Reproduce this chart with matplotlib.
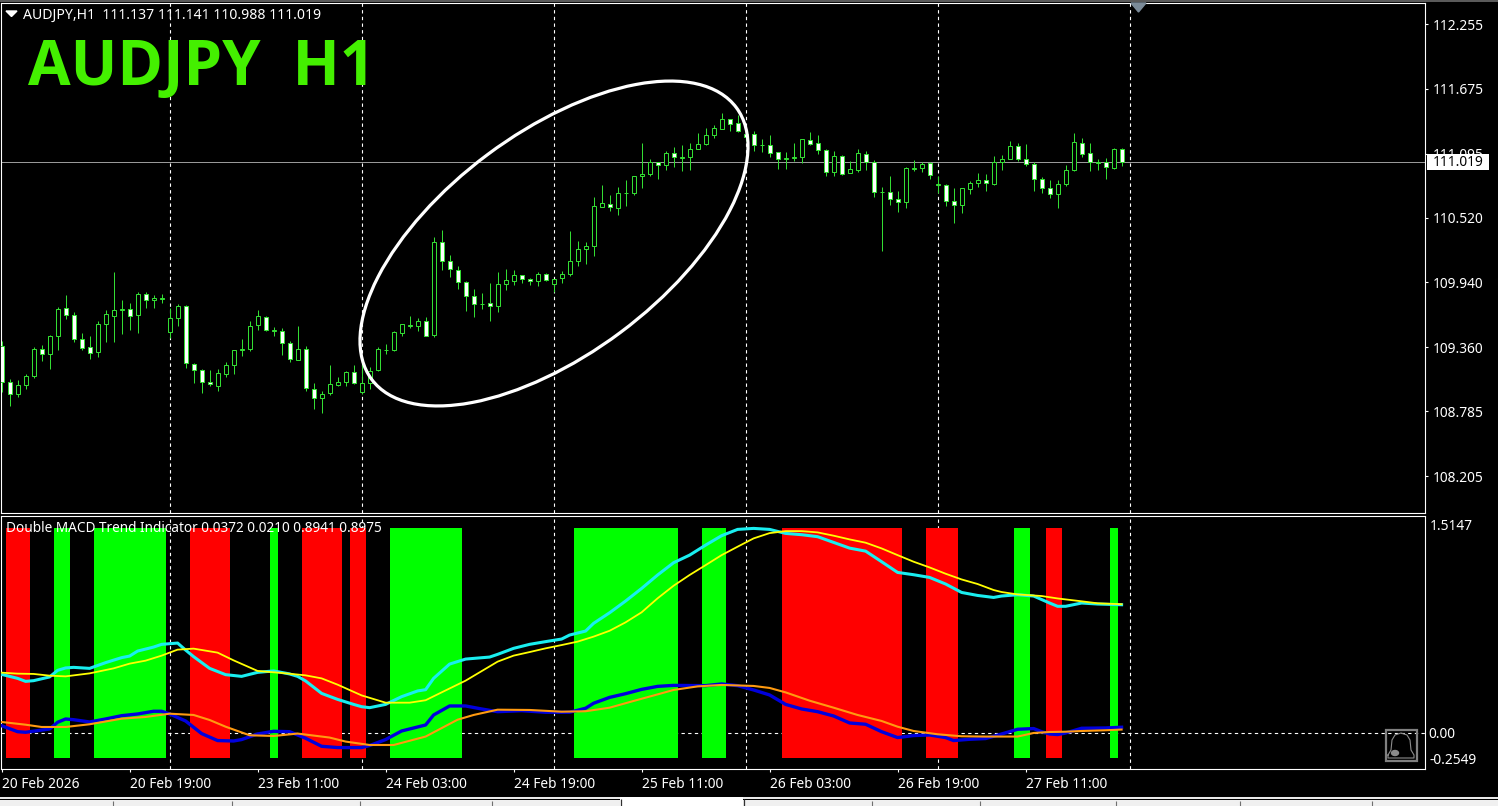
import matplotlib
matplotlib.use('Agg')
import matplotlib.pyplot as plt
from matplotlib.patches import Ellipse, Rectangle, Polygon

# figure parameters
WIDTH, HEIGHT = 1498, 806
PRICE_BOX = (1, 3, 1425, 513)
MACD_BOX = (1, 516, 1425, 769)
BAR_PX = 8.0
FIRST_BAR_PX = 1.6
FONT = 'Noto Sans'
LABEL_SIZE = 9.9

candle_open = [
    109.371, 109.048, 108.937, 109.018, 109.099, 109.344, 109.296, 109.457, 109.712, 109.649,
    109.434, 109.362, 109.314, 109.568, 109.637, 109.694, 109.703, 109.646, 109.837, 109.780,
    109.789, 109.493, 109.619, 109.730, 109.206, 109.155, 109.048, 109.015, 109.117, 109.197,
    109.335, 109.341, 109.556, 109.631, 109.505, 109.505, 109.398, 109.248, 109.344, 108.985,
    108.901, 108.946, 109.024, 109.045, 109.138, 108.955, 109.039, 109.152, 109.333, 109.339,
    109.489, 109.554, 109.554, 109.593, 109.465, 110.302, 110.132, 110.051, 109.943, 109.818,
    109.743, 109.752, 109.725, 109.922, 109.955, 110.003, 109.967, 109.949, 110.015, 109.922,
    109.979, 110.012, 110.129, 110.236, 110.263, 110.613, 110.643, 110.607, 110.738, 110.738,
    110.894, 110.909, 111.017, 110.993, 111.097, 111.052, 111.061, 111.133, 111.184, 111.265,
    111.313, 111.402, 111.369, 111.271, 111.271, 111.170, 111.173, 111.110, 111.047, 111.053,
    111.062, 111.218, 111.191, 111.128, 110.934, 111.074, 110.919, 110.951, 111.092, 111.020,
    110.748, 110.751, 110.688, 110.658, 110.960, 110.963, 111.011, 110.814, 110.814, 110.670,
    110.632, 110.781, 110.829, 110.859, 110.826, 111.017, 111.044, 111.164, 111.047, 111.005,
    110.868, 110.784, 110.730, 110.820, 110.945, 111.188, 111.101, 111.011, 111.020, 110.969,
    111.137,
]
candle_high = [
    109.419, 109.075, 109.066, 109.120, 109.365, 109.383, 109.469, 109.724, 109.831, 109.679,
    109.490, 109.460, 109.598, 109.697, 110.038, 109.786, 109.759, 109.852, 109.858, 109.831,
    109.837, 109.715, 109.748, 109.739, 109.218, 109.164, 109.158, 109.164, 109.230, 109.338,
    109.437, 109.598, 109.697, 109.640, 109.541, 109.532, 109.416, 109.550, 109.371, 109.039,
    108.970, 109.200, 109.096, 109.147, 109.203, 109.209, 109.185, 109.359, 109.387, 109.507,
    109.572, 109.641, 109.626, 109.632, 110.350, 110.410, 110.185, 110.087, 109.949, 109.883,
    109.847, 109.934, 110.033, 110.063, 110.054, 110.009, 109.979, 110.036, 110.024, 109.973,
    110.045, 110.401, 110.311, 110.305, 110.706, 110.816, 110.727, 110.795, 110.858, 110.897,
    111.190, 111.049, 111.023, 111.118, 111.154, 111.175, 111.190, 111.280, 111.325, 111.351,
    111.459, 111.405, 111.441, 111.301, 111.301, 111.230, 111.265, 111.113, 111.110, 111.191,
    111.227, 111.292, 111.265, 111.137, 111.122, 111.080, 111.032, 111.140, 111.122, 111.038,
    110.799, 110.898, 110.763, 110.978, 111.041, 111.017, 111.020, 110.898, 110.823, 110.787,
    110.787, 110.853, 110.925, 110.916, 111.074, 111.086, 111.212, 111.194, 111.185, 111.020,
    110.889, 110.859, 110.859, 110.996, 111.280, 111.236, 111.194, 111.050, 111.059, 111.143,
    111.141,
]
candle_low = [
    108.955, 108.836, 108.910, 108.982, 109.081, 109.239, 109.161, 109.338, 109.610, 109.404,
    109.338, 109.251, 109.275, 109.404, 109.404, 109.475, 109.517, 109.484, 109.709, 109.715,
    109.753, 109.443, 109.553, 109.170, 109.042, 108.946, 109.015, 108.970, 109.096, 109.123,
    109.284, 109.329, 109.517, 109.502, 109.463, 109.293, 109.224, 109.248, 108.964, 108.809,
    108.767, 108.934, 109.015, 109.015, 109.030, 108.940, 108.982, 109.143, 109.297, 109.327,
    109.462, 109.528, 109.507, 109.456, 109.447, 110.054, 109.991, 109.886, 109.686, 109.635,
    109.704, 109.596, 109.677, 109.874, 109.919, 109.931, 109.919, 109.910, 109.955, 109.859,
    109.931, 109.994, 110.090, 110.102, 110.179, 110.613, 110.583, 110.547, 110.628, 110.727,
    110.789, 110.891, 110.870, 110.951, 110.978, 110.942, 110.951, 111.133, 111.175, 111.232,
    111.313, 111.301, 111.289, 111.212, 111.122, 111.113, 111.068, 110.960, 110.960, 111.032,
    111.011, 111.176, 111.095, 110.892, 110.898, 110.907, 110.919, 110.934, 110.951, 110.709,
    110.225, 110.638, 110.575, 110.611, 110.942, 110.928, 110.871, 110.745, 110.629, 110.476,
    110.560, 110.736, 110.799, 110.763, 110.817, 110.951, 111.044, 111.026, 110.987, 110.763,
    110.745, 110.700, 110.611, 110.808, 110.936, 111.062, 110.942, 110.951, 110.871, 110.960,
    110.988,
]
candle_close = [
    109.048, 108.940, 109.021, 109.102, 109.344, 109.299, 109.460, 109.703, 109.646, 109.431,
    109.350, 109.305, 109.568, 109.658, 109.694, 109.700, 109.637, 109.837, 109.783, 109.801,
    109.801, 109.622, 109.730, 109.215, 109.152, 109.045, 109.027, 109.129, 109.200, 109.335,
    109.344, 109.550, 109.640, 109.511, 109.514, 109.395, 109.251, 109.344, 108.994, 108.901,
    108.940, 109.030, 109.045, 109.138, 109.036, 109.039, 109.144, 109.344, 109.339, 109.498,
    109.566, 109.563, 109.593, 109.456, 110.302, 110.132, 110.057, 109.940, 109.815, 109.743,
    109.749, 109.728, 109.925, 109.961, 110.006, 109.970, 109.949, 110.015, 109.961, 109.970,
    110.015, 110.132, 110.239, 110.266, 110.625, 110.652, 110.613, 110.741, 110.744, 110.894,
    110.912, 111.020, 110.993, 111.100, 111.064, 111.064, 111.136, 111.181, 111.262, 111.325,
    111.405, 111.357, 111.295, 111.241, 111.170, 111.176, 111.098, 111.044, 111.056, 111.065,
    111.224, 111.179, 111.125, 110.928, 111.074, 110.916, 110.957, 111.101, 111.017, 110.748,
    110.754, 110.685, 110.658, 110.966, 110.966, 111.005, 110.901, 110.823, 110.667, 110.632,
    110.787, 110.832, 110.859, 110.829, 111.017, 111.047, 111.164, 111.044, 110.999, 110.865,
    110.784, 110.733, 110.823, 110.948, 111.200, 111.092, 111.017, 111.017, 110.975, 111.137,
    111.019,
]

price_ticks = [112.255, 111.675, 111.095, 110.520, 109.940, 109.360, 108.785, 108.205]
price_tick_labels = ['112.255', '111.675', '111.095', '110.520', '109.940', '109.360', '108.785', '108.205']
last_price = 111.019

time_ticks = [0, 16, 32, 48, 64, 80, 96, 112, 128]
time_labels = ['20 Feb 2026', '20 Feb 19:00', '23 Feb 11:00', '24 Feb 03:00', '24 Feb 19:00',
               '25 Feb 11:00', '26 Feb 03:00', '26 Feb 19:00', '27 Feb 11:00']
grid_bars = [21, 45, 69, 93, 117, 141]

# histogram runs, first and last bar of each
red_runs = [(1, 3), (24, 28), (38, 42), (44, 45), (98, 112), (116, 119), (131, 132)]
green_runs = [(7, 8), (12, 20), (34, 34), (49, 57), (72, 84), (88, 90), (127, 128), (139, 139)]
hist_top = 1.428
hist_bottom = -0.176

cyan_x = [0, 2, 3, 4, 6, 7, 8, 9, 11, 13, 15, 16, 17, 19, 20, 22, 23, 24, 26, 28, 30, 32, 34, 36, 37, 38,
          40, 42, 44, 45, 46, 48, 50, 52, 53, 54, 56, 58, 61, 62, 64, 66, 68, 70, 71, 73, 74, 76, 78, 80,
          82, 84, 86, 88, 90, 92, 94, 96, 98, 100, 102, 104, 106, 108, 110, 112, 114, 116, 118, 120, 122,
          124, 125, 127, 129, 131, 132, 133, 135, 137, 140]
cyan_y = [0.407, 0.379, 0.358, 0.363, 0.389, 0.435, 0.452, 0.456, 0.449, 0.489, 0.524, 0.535, 0.570, 0.598,
          0.617, 0.626, 0.577, 0.531, 0.449, 0.405, 0.393, 0.421, 0.431, 0.410, 0.393, 0.361, 0.274, 0.232,
          0.197, 0.181, 0.174, 0.197, 0.251, 0.291, 0.300, 0.379, 0.479, 0.514, 0.528, 0.547, 0.589, 0.617,
          0.636, 0.654, 0.682, 0.710, 0.764, 0.838, 0.920, 1.008, 1.102, 1.188, 1.241, 1.311, 1.377, 1.421,
          1.428, 1.421, 1.393, 1.384, 1.370, 1.330, 1.290, 1.269, 1.195, 1.120, 1.104, 1.085, 1.039, 0.980,
          0.959, 0.945, 0.955, 0.964, 0.955, 0.906, 0.883, 0.883, 0.906, 0.899, 0.8941]

yellow_x = [0, 2, 4, 6, 8, 11, 14, 16, 18, 20, 22, 24, 27, 29, 32, 35, 38, 40, 42, 45, 48, 51, 53, 55, 58,
            62, 64, 66, 68, 70, 72, 74, 76, 78, 80, 82, 84, 86, 88, 90, 92, 94, 96, 98, 100, 102, 104, 106,
            108, 110, 112, 114, 116, 118, 120, 122, 124, 125, 127, 130, 132, 135, 137, 140]
yellow_y = [0.419, 0.412, 0.410, 0.398, 0.393, 0.414, 0.449, 0.482, 0.503, 0.538, 0.580, 0.587, 0.559, 0.505,
            0.431, 0.417, 0.400, 0.379, 0.335, 0.260, 0.209, 0.209, 0.226, 0.281, 0.363, 0.496, 0.538, 0.563,
            0.589, 0.612, 0.636, 0.671, 0.712, 0.771, 0.841, 0.939, 1.027, 1.102, 1.171, 1.241, 1.300, 1.358,
            1.395, 1.409, 1.409, 1.400, 1.377, 1.351, 1.328, 1.288, 1.241, 1.195, 1.155, 1.111, 1.071, 1.039,
            0.997, 0.983, 0.966, 0.955, 0.938, 0.918, 0.904, 0.8975]

blue_x = [0, 2, 3, 6, 7, 8, 9, 11, 13, 15, 17, 19, 20, 21, 23, 25, 27, 29, 30, 32, 34, 36, 38, 40, 42, 45,
          46, 48, 50, 53, 54, 56, 58, 60, 62, 65, 68, 71, 73, 74, 76, 78, 80, 82, 84, 88, 90, 92, 94, 96,
          98, 100, 102, 104, 106, 108, 110, 112, 114, 116, 118, 119, 121, 123, 125, 127, 129, 130, 131,
          132, 133, 135, 138, 140]
blue_y = [0.048, 0.006, 0.002, 0.025, 0.072, 0.095, 0.090, 0.074, 0.095, 0.118, 0.130, 0.149, 0.149, 0.130,
          0.081, -0.007, -0.056, -0.059, -0.049, -0.010, 0.009, 0.006, -0.040, -0.096, -0.105, -0.105,
          -0.091, -0.049, 0.011, 0.053, 0.123, 0.186, 0.186, 0.165, 0.146, 0.153, 0.142, 0.142, 0.170,
          0.205, 0.246, 0.272, 0.302, 0.323, 0.330, 0.328, 0.340, 0.328, 0.298, 0.263, 0.197, 0.165,
          0.146, 0.116, 0.067, 0.058, 0.006, -0.035, -0.021, -0.017, -0.035, -0.056, -0.047, -0.042,
          -0.010, 0.023, 0.028, 0.006, -0.010, -0.014, -0.003, 0.030, 0.032, 0.0372]

orange_x = [0, 3, 5, 8, 11, 15, 18, 21, 24, 26, 28, 31, 34, 37, 41, 43, 46, 49, 53, 57, 59, 62, 66, 70, 73,
            76, 79, 82, 84, 87, 90, 94, 96, 98, 101, 104, 107, 110, 112, 114, 117, 120, 123, 125, 127, 129,
            131, 133, 135, 138, 140]
orange_y = [0.074, 0.055, 0.039, 0.039, 0.058, 0.097, 0.109, 0.132, 0.123, 0.088, 0.041, -0.019, -0.024,
            -0.007, -0.035, -0.063, -0.087, -0.087, -0.028, 0.090, 0.123, 0.160, 0.158, 0.146, 0.149, 0.174,
            0.221, 0.267, 0.298, 0.323, 0.333, 0.326, 0.312, 0.281, 0.223, 0.174, 0.123, 0.081, 0.041, 0.011,
            -0.012, -0.026, -0.028, -0.028, -0.028, -0.003, 0.004, 0.006, 0.011, 0.016, 0.0210]


def box_to_rect(box):
    x0, y0, x1, y1 = box
    return [x0 / WIDTH, 1 - y1 / HEIGHT, (x1 - x0) / WIDTH, (y1 - y0) / HEIGHT]


def style_panel(ax, box):
    ax.set_facecolor('black')
    ax.set_xlim((box[0] - FIRST_BAR_PX) / BAR_PX, (box[2] - FIRST_BAR_PX) / BAR_PX)
    for spine in ax.spines.values():
        spine.set_color('white')
        spine.set_linewidth(0.8)
    ax.yaxis.tick_right()
    ax.tick_params(colors='white', length=2.5, width=0.8, labelsize=LABEL_SIZE, pad=3)
    ax.set_xticks([])
    ax.vlines(grid_bars, 0, 1, transform=ax.get_xaxis_transform(), colors='white',
              linestyles=(0, (3, 3)), linewidth=0.8, zorder=1)


def draw_price_panel(fig):
    ax = fig.add_axes(box_to_rect(PRICE_BOX))
    style_panel(ax, PRICE_BOX)
    ax.set_ylim(107.874, 112.445)
    ax.set_yticks(price_ticks)
    ax.set_yticklabels(price_tick_labels, fontfamily=FONT)

    green = '#33dd33'
    bars = range(len(candle_open))
    ax.axhline(last_price, color='#999999', linewidth=0.72, zorder=2)
    ax.vlines(bars, candle_low, candle_high, colors=green, linewidth=0.72, zorder=3, snap=True)
    bottoms = [min(o, c) for o, c in zip(candle_open, candle_close)]
    heights = [abs(o - c) for o, c in zip(candle_open, candle_close)]
    faces = ['white' if c < o else 'black' for o, c in zip(candle_open, candle_close)]
    ax.bar(bars, heights, 0.5, bottom=bottoms, color=faces, edgecolor=green, linewidth=0.72, zorder=4)


def draw_macd_panel(fig):
    ax = fig.add_axes(box_to_rect(MACD_BOX))
    style_panel(ax, MACD_BOX)
    ax.set_ylim(-0.2549, 1.5147)
    ax.set_yticks([])
    ax.axhline(0, color='white', linestyle=(0, (3, 3)), linewidth=0.8, zorder=1)

    for runs, color in ((red_runs, '#ff0000'), (green_runs, '#00ff00')):
        for first, last in runs:
            bars = range(first, last + 1)
            ax.bar(bars, [hist_top - hist_bottom] * len(bars), 1.0, bottom=hist_bottom, color=color,
                   linewidth=0, zorder=2)

    ax.plot(cyan_x, cyan_y, color='#19eef0', linewidth=2.2, zorder=3)
    ax.plot(yellow_x, yellow_y, color='#ffff00', linewidth=1.3, zorder=4)
    ax.plot(blue_x, blue_y, color='#0000dd', linewidth=2.4, zorder=3)
    ax.plot(orange_x, orange_y, color='#ff9a10', linewidth=1.5, zorder=4)

    ax.set_xticks(time_ticks)
    ax.set_xticklabels(time_labels, ha='left', fontfamily=FONT)
    return ax


def draw_overlay(fig):
    # things placed on the screen and not on a scale
    ax = fig.add_axes([0, 0, 1, 1], zorder=10)
    ax.set_xlim(0, WIDTH)
    ax.set_ylim(HEIGHT, 0)
    ax.axis('off')
    ax.patch.set_visible(False)

    ax.add_patch(Ellipse((554, 243.5), 2 * 227.4, 2 * 111, angle=-36.7, fill=False, edgecolor='white',
                         linewidth=2.3))

    ax.add_patch(Polygon([(6, 11), (17, 11), (11.5, 16.5)], color='white'))
    ax.text(23, 15, 'AUDJPY,H1  111.137 111.141 110.988 111.019', color='white', fontsize=10.15,
            family=FONT, va='center')
    ax.text(28, 69, 'AUDJPY  H1', color='#44f000', fontsize=44.5, family='Open Sans', weight='bold', va='center')
    ax.text(6, 528, 'Double MACD Trend Indicator 0.0372 0.0210 0.8941 0.8975', color='white',
            fontsize=9.8, family=FONT, va='center')

    # last price flag, hides the tick label under it
    ax.add_patch(Rectangle((1427, 154), 62, 16, color='white', linewidth=0))
    ax.text(1433, 163, '111.019', color='black', fontsize=LABEL_SIZE, family=FONT, va='center')

    ax.text(1430, 527, '1.5147', color='white', fontsize=LABEL_SIZE, family=FONT, va='center')
    ax.text(1428, 734, '0.00', color='white', fontsize=LABEL_SIZE, family=FONT, va='center')
    ax.text(1429, 761, '-0.2549', color='white', fontsize=LABEL_SIZE, family=FONT, va='center')

    ax.add_patch(Polygon([(1131, 3), (1146, 3), (1138.5, 12)], color='#7b8b99'))

    # bell button
    ax.add_patch(Rectangle((1385.5, 730), 31, 31, fill=False, edgecolor='#808080', linewidth=1.6))
    ax.plot([1388, 1391, 1392, 1395, 1401, 1407, 1410, 1411, 1414, 1414, 1388, 1388],
            [755, 750, 740, 735, 733, 735, 740, 750, 755, 758, 758, 755], color='#8c8c8c', linewidth=0.8)
    ax.add_patch(Ellipse((1395, 753), 7, 5, color='#8c8c8c'))

    # window tabs under the chart
    ax.add_patch(Rectangle((0, 797), WIDTH, 2, color='#e8e8e8', linewidth=0))
    ax.add_patch(Rectangle((0, 800), WIDTH, 6, color='#f0f0f0', linewidth=0))
    ax.add_patch(Rectangle((620, 797), 123, 9, color='white', linewidth=0))
    ax.vlines([113, 232, 360, 492, 872, 980, 1116, 1240, 1372], 801, 806, colors='#707070', linewidth=0.8)
    ax.vlines([620.5, 743.5], 799, 806, colors='#303030', linewidth=0.9)
    ax.add_patch(Rectangle((0, 0), WIDTH, 2, color='#5a5a5a', linewidth=0))


def draw_chart():
    fig = plt.figure(figsize=(WIDTH / 100, HEIGHT / 100), dpi=100, facecolor='black')
    draw_price_panel(fig)
    draw_macd_panel(fig)
    draw_overlay(fig)
    fig.savefig('out.png', dpi=100, facecolor='black')


if __name__ == '__main__':
    draw_chart()
